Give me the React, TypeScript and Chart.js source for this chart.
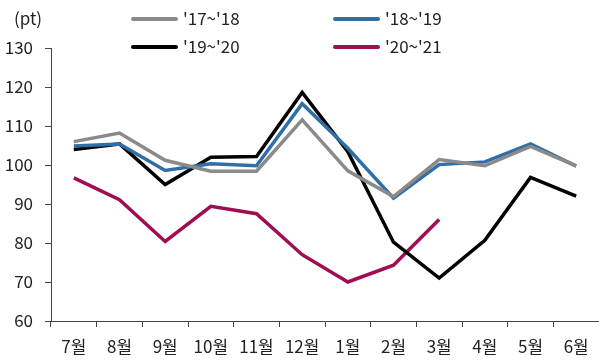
import React, { useEffect, useRef } from 'react';
import { Chart, registerables } from 'chart.js';

Chart.register(...registerables);

const months = ['7월', '8월', '9월', '10월', '11월', '12월', '1월', '2월', '3월', '4월', '5월', '6월'];
const s1718 = [106.0, 108.2, 101.2, 98.4, 98.4, 111.6, 98.5, 91.9, 101.4, 99.8, 104.8, 99.8];
const s1819 = [104.9, 105.4, 98.6, 100.3, 99.8, 115.7, 104.3, 91.5, 100.1, 100.8, 105.4, 99.7];
const s1920 = [104.0, 105.4, 95.0, 102.0, 102.2, 118.6, 103.4, 80.2, 71.0, 80.7, 96.8, 92.0];
const s2021 = [96.7, 91.1, 80.4, 89.4, 87.5, 77.0, 70.0, 74.3, 86.0, null, null, null];
const seriesNames = ["'17~'18", "'18~'19", "'19~'20", "'20~'21"];
const seriesColors = ['#8a8a8a', '#2f6ea6', '#000000', '#a00d50'];
const yMin = 60;
const yMax = 130;
const yStep = 10;
const unitLabel = '(pt)';

const FONT = "'Noto Sans CJK KR', 'Noto Sans', sans-serif";

const legendPlugin = {
  id: 'customLegend',
  afterDraw(chart: any) {
    const ctx = chart.ctx;
    ctx.save();
    ctx.font = `17px ${FONT}`;
    ctx.fillStyle = '#222';
    ctx.textBaseline = 'middle';
    ctx.textAlign = 'center';
    ctx.fillText(unitLabel, 28, 19);
    const pos = [
      [131, 19],
      [333, 19],
      [131, 47],
      [333, 47],
    ];
    ctx.textAlign = 'left';
    seriesNames.forEach((name, i) => {
      const [x, y] = pos[i];
      ctx.strokeStyle = seriesColors[i];
      ctx.lineWidth = 4;
      ctx.lineCap = 'round';
      ctx.beginPath();
      ctx.moveTo(x + 2, y);
      ctx.lineTo(x + 45, y);
      ctx.stroke();
      ctx.fillStyle = '#222';
      ctx.fillText(name, x + 52, y);
    });
    ctx.restore();
  },
};

export default function App() {
  const ref = useRef<HTMLCanvasElement>(null);
  useEffect(() => {
    const data = [s1718, s1819, s1920, s2021];
    const chart = new Chart(ref.current as HTMLCanvasElement, {
      type: 'line',
      data: {
        labels: months,
        datasets: seriesNames.map((name, i) => ({
          label: name,
          data: data[i] as any,
          borderColor: seriesColors[i],
          backgroundColor: seriesColors[i],
          borderWidth: 3.5,
          pointRadius: 0,
          tension: 0,
          spanGaps: false,
          borderJoinStyle: 'miter' as const,
        })),
      },
      options: {
        responsive: false,
        animation: false,
        layout: { padding: { top: 48, right: 0, left: 0, bottom: 0 } },
        plugins: { legend: { display: false }, tooltip: { enabled: false } },
        scales: {
          x: {
            offset: true,
            grid: {
              display: true,
              offset: true,
              drawOnChartArea: false,
              drawTicks: true,
              tickLength: 6,
              color: '#444',
            },
            border: { display: true, color: '#444', width: 1 },
            ticks: {
              color: '#222',
              font: { family: FONT, size: 17 },
              padding: 9,
              maxRotation: 0,
              autoSkip: false,
            },
            afterFit: (s: any) => {
              s.height = 40;
            },
          },
          y: {
            min: yMin,
            max: yMax,
            grid: {
              display: true,
              drawOnChartArea: false,
              drawTicks: true,
              tickLength: 6,
              color: '#444',
            },
            border: { display: true, color: '#444', width: 1 },
            ticks: {
              stepSize: yStep,
              color: '#222',
              font: { family: FONT, size: 17 },
              padding: 12,
            },
            afterFit: (s: any) => {
              s.width = 51;
            },
          },
        },
      },
      plugins: [legendPlugin],
    });
    return () => chart.destroy();
  }, []);
  return (
    <div style={{ position: 'fixed', left: 0, top: 0, width: 599, height: 361, background: '#fff' }}>
      <canvas ref={ref} width={599} height={361} style={{ display: 'block' }} />
    </div>
  );
}
